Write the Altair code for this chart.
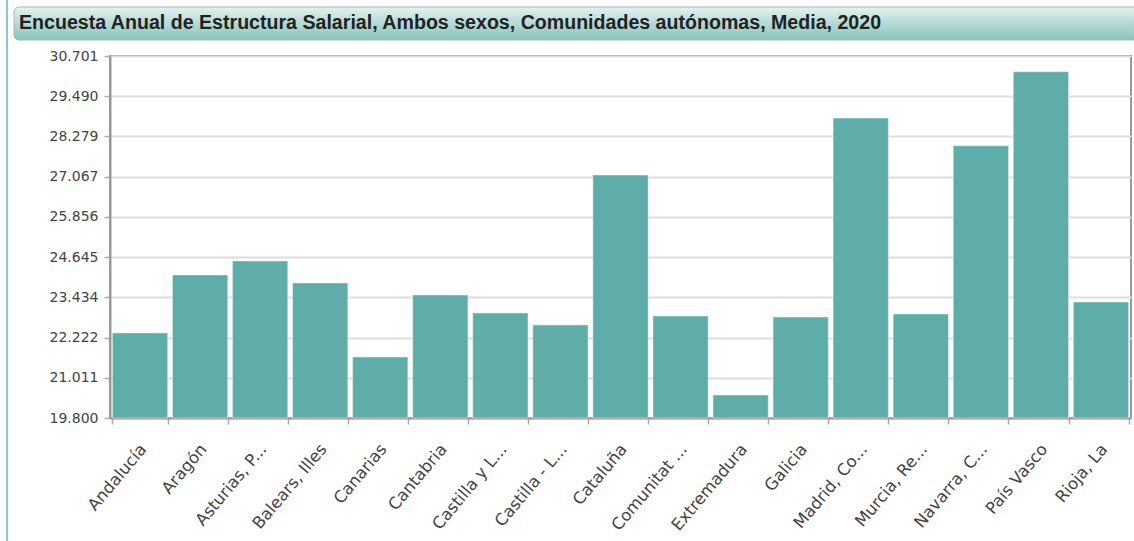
import altair as alt
import pandas as pd

regions = ["Andalucía", "Aragón", "Asturias, P...", "Balears, Illes", "Canarias",
           "Cantabria", "Castilla y L...", "Castilla - L...", "Cataluña", "Comunitat ...",
           "Extremadura", "Galicia", "Madrid, Co...", "Murcia, Re...", "Navarra, C...",
           "País Vasco", "Rioja, La"]
salaries = [22363, 24106, 24527, 23865, 21637, 23504, 22962, 22600, 27117, 22871,
            20493, 22841, 28833, 22932, 27999, 30228, 23293]
y_ticks = [19800, 21011, 22222, 23434, 24645, 25856, 27067, 28279, 29490, 30701]
y_min, y_max = 19800, 30701
title_text = "Encuesta Anual de Estructura Salarial, Ambos sexos, Comunidades autónomas, Media, 2020"

df = pd.DataFrame({"region": regions, "salario": salaries})

W, H = 1021, 362
LEFT, TOP = 110, 56

bars = alt.Chart(df).mark_bar(color="#5fada8", stroke="#e8f4f2", strokeWidth=0.5).encode(
    x=alt.X("region:N", sort=None, title=None,
            scale=alt.Scale(paddingInner=0.08, paddingOuter=0.04),
            axis=alt.Axis(labelAngle=-50, labelAlign="right", labelBaseline="middle",
                          labelPadding=22, labelOffset=3, tickBand="extent", tickSize=6,
                          grid=False, labelFontSize=16.5, labelColor="#444",
                          labelFont="DejaVu Sans")),
    y=alt.Y("salario:Q", title=None,
            scale=alt.Scale(domain=[y_min, y_max], zero=False, nice=False),
            axis=alt.Axis(values=y_ticks, tickSize=6, labelPadding=6,
                          labelExpr="replace(format(datum.value, ',.0f'), ',', '.')",
                          labelFontSize=14, labelColor="#444", labelFont="DejaVu Sans",
                          grid=True, gridColor="#dedede", gridWidth=2)),
    y2=alt.datum(y_min),
)

tdf = pd.DataFrame({"t": [title_text]})
title_box = alt.Chart(tdf).mark_rect(
    cornerRadius=5, stroke="#a8b8b6", strokeWidth=1,
    fill={"gradient": "linear", "x1": 0, "y1": 0, "x2": 0, "y2": 1,
          "stops": [{"offset": 0, "color": "#e4f2ef"}, {"offset": 1, "color": "#86c3bb"}]},
).encode(x=alt.value(14 - LEFT), x2=alt.value(1145 - LEFT),
         y=alt.value(7 - TOP), y2=alt.value(40 - TOP))

title_txt = alt.Chart(tdf).mark_text(
    align="left", baseline="middle", font="Liberation Sans", fontWeight="bold",
    fontSize=19.6, color="#222",
).encode(x=alt.value(19 - LEFT), y=alt.value(23 - TOP), text="t:N")

left_line = alt.Chart(tdf).mark_rule(color="#8ccac2", strokeWidth=2).encode(
    x=alt.value(7 - LEFT), y=alt.value(-TOP), y2=alt.value(541 - TOP))

chart = alt.layer(bars, title_box, title_txt, left_line).properties(
    width=W, height=H,
    autosize=alt.AutoSizeParams(type="none"),
    padding={"left": LEFT, "top": TOP, "right": 1134 - LEFT - W, "bottom": 541 - TOP - H},
    background="white",
).configure_view(stroke="#999", strokeWidth=2).configure_axis(
    domainColor="#999", domainWidth=2, tickColor="#aaa", tickWidth=1.5,
)

chart.save("out.html", embed_options={"renderer": "svg", "actions": False})
